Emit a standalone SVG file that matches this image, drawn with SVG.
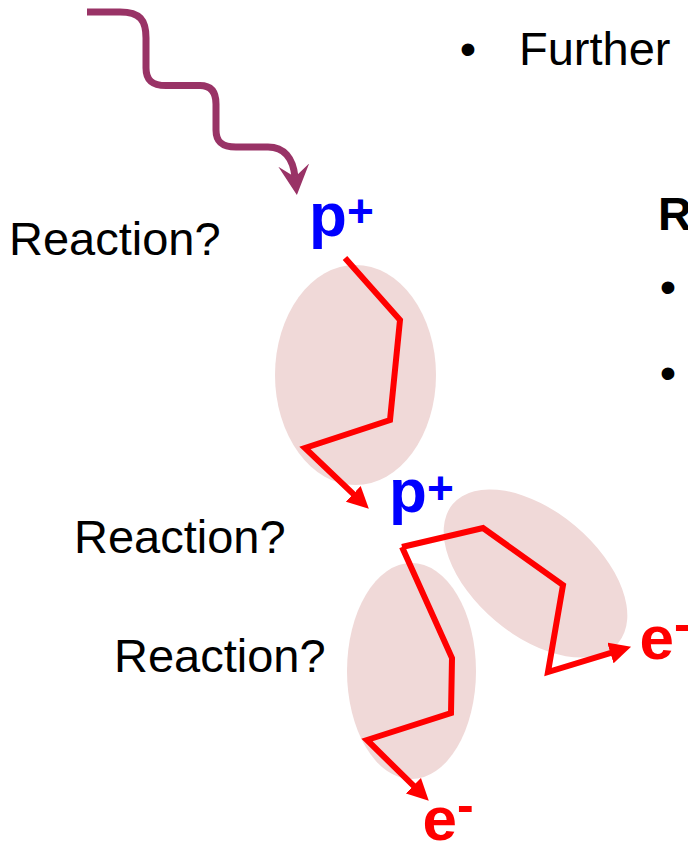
<svg xmlns="http://www.w3.org/2000/svg" width="688" height="844" viewBox="0 0 688 844">
<style>
.t{font-family:"Liberation Sans",Arial,sans-serif;font-size:47px;fill:#000}
.b{font-weight:bold}
.lab{font-family:"Liberation Sans",Arial,sans-serif;font-weight:bold;font-size:62px}
.blue{fill:#0000FF}
.red{fill:#FF0000}
.cloud{fill:#F0D9D8}
.track{fill:none;stroke:#FF0000;stroke-width:6;stroke-linejoin:miter}
.wave{fill:none;stroke:#993366;stroke-width:7}
</style>
<defs>
<marker id="ah" viewBox="0 0 10 10" refX="3" refY="5" markerWidth="3.6" markerHeight="3.6" orient="auto" markerUnits="strokeWidth">
<path d="M0,0 L10,5 L0,10 z" fill="#FF0000"/>
</marker>
<marker id="wh" viewBox="0 0 30 31" refX="12" refY="15.5" markerWidth="30" markerHeight="31" orient="auto" markerUnits="userSpaceOnUse">
<path d="M0,0 L30,15.5 L0,31 L12,15.5 z" fill="#993366"/>
</marker>
</defs>
<g id="text-further">
<text class="t" x="468" y="65" text-anchor="middle">•</text>
<text class="t" x="519" y="65">Further</text>
</g>
<g id="text-r">
<text class="t b" x="658" y="230">R</text>
<text class="t" x="668" y="303" text-anchor="middle">•</text>
<text class="t" x="668" y="389" text-anchor="middle">•</text>
</g>
<g id="cloud1"><ellipse class="cloud" cx="355.5" cy="375" rx="80.5" ry="110"/></g>
<g id="cloud2"><ellipse class="cloud" cx="535.5" cy="573.5" rx="108" ry="62" transform="rotate(40 535.5 573.5)"/></g>
<g id="cloud3"><ellipse class="cloud" cx="411.5" cy="671" rx="64.5" ry="108"/></g>
<g id="reaction1"><text class="t" x="9" y="255">Reaction?</text></g>
<g id="reaction2"><text class="t" x="74" y="553">Reaction?</text></g>
<g id="reaction3"><text class="t" x="114" y="672">Reaction?</text></g>
<g id="proton1"><text class="lab blue" x="309" y="236">p<tspan font-size="46" dy="-9">+</tspan></text></g>
<g id="proton2"><text class="lab blue" x="389" y="512">p<tspan font-size="46" dy="-8">+</tspan></text></g>
<g id="electron1"><text class="lab red" x="639.5" y="659">e<tspan font-size="50" dy="-18">-</tspan></text></g>
<g id="electron2"><text class="lab red" x="422.5" y="840">e<tspan font-size="50" dy="-18">-</tspan></text></g>
<g id="connectors">
<path class="wave" d="M 87 12 L 120 12 C 140 12, 146 20, 146 38 L 146 68 C 146 80, 152 85.5, 166 85.5 L 200 85.5 C 211 85.5, 216 92, 216 104 L 216 130 C 216 142, 222 147, 236 147 L 268 147 C 284 147, 293 158, 295 177" marker-end="url(#wh)"/>
<path class="track" d="M 345 258 L 400 320 L 390 420 L 305 448 L 357.9 498.4" marker-end="url(#ah)"/>
<path class="track" d="M 402 547 L 483 528 L 563 585 L 548 672 L 616.6 651.1" marker-end="url(#ah)"/>
<path class="track" d="M 402 547 L 452 658 L 451 713 L 367 740 L 418 790.2" marker-end="url(#ah)"/>
</g>
</svg>
